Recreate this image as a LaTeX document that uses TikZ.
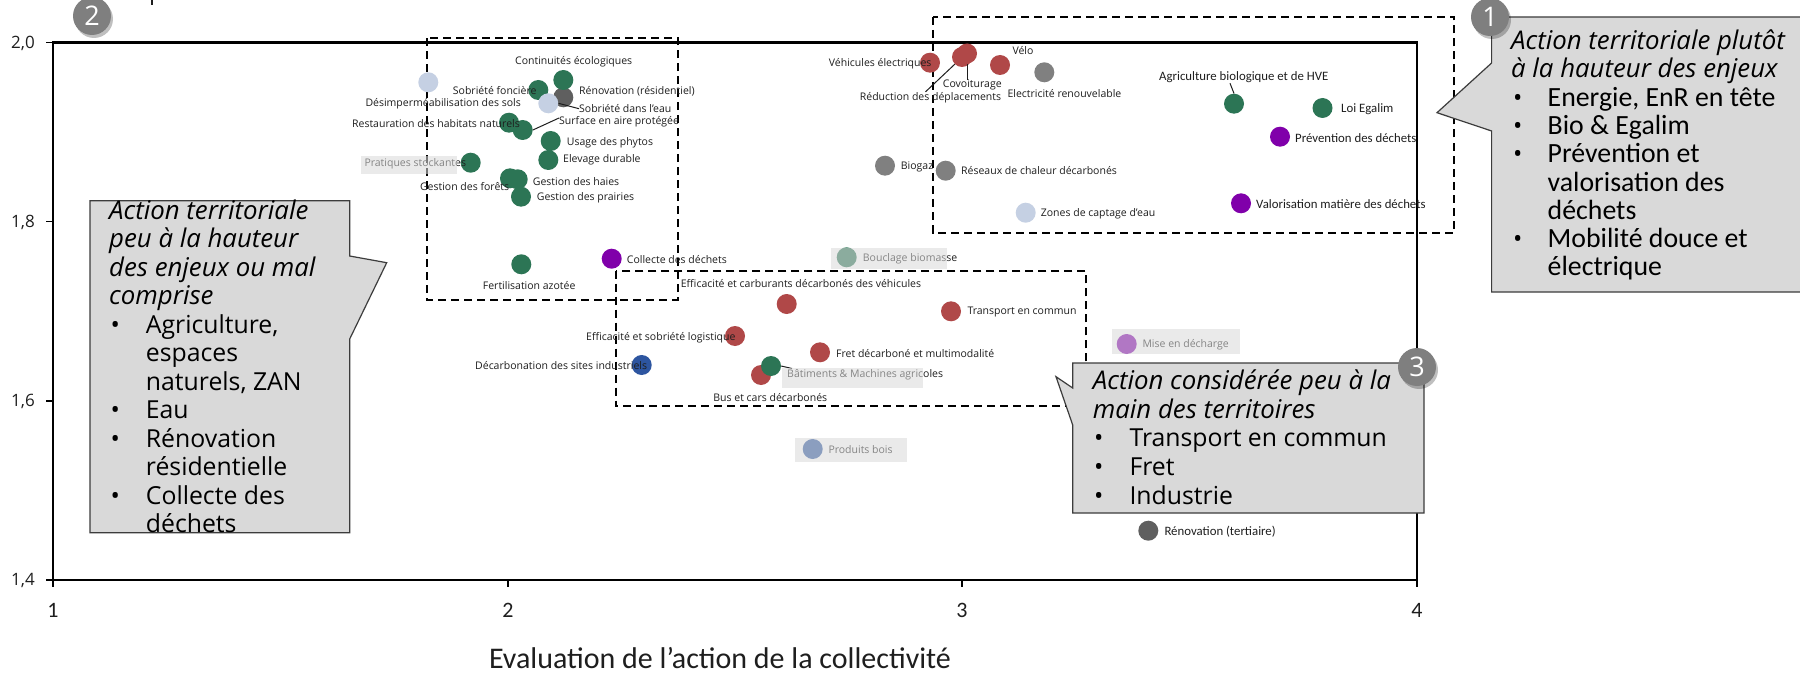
\documentclass[tikz,border=0pt]{standalone}
\usepackage{fontspec}
\setmainfont{Open Sans}
\newfontfamily\calib{Carlito}
\usetikzlibrary{shadows}
\definecolor{cgreen}{RGB}{44,117,85}
\definecolor{cred}{RGB}{176,72,72}
\definecolor{cgray}{RGB}{128,128,128}
\definecolor{cdgray}{RGB}{95,95,95}
\definecolor{clblue}{RGB}{197,208,227}
\definecolor{cpurple}{RGB}{128,0,170}
\definecolor{cblue}{RGB}{45,85,160}
\definecolor{cbox}{RGB}{217,217,217}
\definecolor{cborder}{RGB}{60,60,60}
\definecolor{ctext}{RGB}{30,30,30}
\definecolor{cover}{RGB}{218,218,218}
\definecolor{cnum}{RGB}{127,127,127}
\begin{document}
\begin{tikzpicture}[x=1pt,y=-1pt,
  dot/.style={circle,inner sep=0pt,minimum size=20pt,fill=#1},
  lab/.style={inner sep=0pt,text=ctext,font=\fontsize{10.5}{12}\selectfont},
  labc/.style={inner sep=0pt,text=ctext,font=\calib\fontsize{12.8}{14}\selectfont},
  dbox/.style={draw=black,line width=2pt,dash pattern=on 8pt off 5pt},
  callout/.style={fill=cbox,draw=cborder,line width=1.2pt},
  numc/.style={circle,fill=cnum,minimum size=38pt,inner sep=0pt,text=white,font=\fontsize{27}{27}\selectfont,drop shadow={shadow xshift=2pt,shadow yshift=-3pt,opacity=0.25,fill=black}},
  leader/.style={draw=ctext,line width=1pt},
  over/.style={fill=cover,opacity=0.55},
  hdr/.style={inner sep=0pt,anchor=base west,text=black,font=\itshape\fontsize{25.8}{28}\selectfont},
  bulm/.style={inner sep=0pt,anchor=base west,text=black,font=\fontsize{24.8}{28}\selectfont},
  bulc/.style={inner sep=0pt,anchor=base west,text=black,font=\calib\fontsize{27.8}{28}\selectfont},
  ytl/.style={inner sep=0pt,anchor=east,text=ctext,font=\fontsize{17}{20}\selectfont},
  xtl/.style={inner sep=0pt,anchor=center,text=ctext,font=\calib\fontsize{22}{24}\selectfont}
]
\useasboundingbox (0,0) rectangle (1800,674);
\fill[white] (0,0) rectangle (1800,674);
\fill[ctext] (150.8,0) rectangle (153.2,5.5);

% frame and ticks
\draw[line width=2.2pt] (53,42.5) rectangle (1417,580);
\draw[line width=1.5pt] (46,42.5) -- (53,42.5) (46,221.7) -- (53,221.7) (46,401) -- (53,401) (46,580) -- (53,580);
\draw[line width=1.5pt] (53,580) -- (53,587) (508,580) -- (508,587) (962,580) -- (962,587) (1417,580) -- (1417,587);
\node[ytl] (y20) at (35,43.3) {2,0};
\node[ytl] (y18) at (35,222) {1,8};
\node[ytl] (y16) at (35,401.5) {1,6};
\node[ytl] (y14) at (35,580.5) {1,4};
\node[xtl] (x1) at (53,610) {1};
\node[xtl] (x2) at (508,610) {2};
\node[xtl] (x3) at (962,610) {3};
\node[xtl] (x4) at (1417,610) {4};
\node[inner sep=0pt,anchor=base,text=ctext,font=\calib\fontsize{30}{32}\selectfont] (xt) at (720,668.5) {Evaluation de l’action de la collectivité};

% dashed zones
\draw[dbox] (932.5,17) rectangle (1454,232.5);
\draw[dbox] (426.5,38.3) rectangle (678,299.5);
\draw[dbox] (615.7,270.7) rectangle (1085.7,406);

% dots
\node[dot=clblue] (lb1) at (428.3,82.3) {};
\node[dot=cdgray] (rres) at (563.3,97.3) {};
\node[dot=cgreen] (g1) at (563.3,80) {};
\node[dot=cgreen] (g2) at (538.3,90) {};
\node[dot=clblue] (lb2) at (548.3,103.3) {};
\node[dot=cgreen] (g3) at (509,122.7) {};
\node[dot=cgreen] (g4) at (522.7,130) {};
\node[dot=cgreen] (g5) at (550.7,141) {};
\node[dot=cgreen] (g6) at (548.3,160) {};
\node[dot=cgreen] (g7) at (470.7,162.7) {};
\node[dot=cgreen] (g8) at (510,178.3) {};
\node[dot=cgreen] (g9) at (517.7,179.3) {};
\node[dot=cgreen] (g10) at (521,196.7) {};
\node[dot=cgreen] (g11) at (521.3,264.3) {};
\node[dot=cpurple] (pcol) at (611.7,258.7) {};
\node[dot=cred] (rve) at (930,62.7) {};
\node[dot=cred] (rrd) at (962,57) {};
\node[dot=cred] (rcov) at (967,53.5) {};
\node[dot=cred] (rvelo) at (1000,65) {};
\node[dot=cgray] (gelec) at (1044.3,72.3) {};
\node[dot=cgreen] (g12) at (1234,103.7) {};
\node[dot=cgreen] (g13) at (1322.5,108) {};
\node[dot=cpurple] (pprev) at (1280,136.7) {};
\node[dot=cgray] (gbio) at (885,165.7) {};
\node[dot=cgray] (gres) at (945.7,170.7) {};
\node[dot=clblue] (lbz) at (1025.7,212.7) {};
\node[dot=cpurple] (pval) at (1241,203.3) {};
\node[dot=cgreen] (gbou) at (846.7,257.3) {};
\node[dot=cred] (reff) at (786.7,304) {};
\node[dot=cred] (rtc) at (951,311.3) {};
\node[dot=cred] (rlog) at (735,336) {};
\node[dot=cred] (rfret) at (820,352.3) {};
\node[dot=cblue] (bdec) at (641.7,365) {};
\node[dot=cred] (rbus) at (761,375) {};
\node[dot=cgreen] (g14) at (771,366) {};
\node[dot=cpurple] (pmise) at (1126.7,344) {};
\node[dot=cblue] (bbois) at (812.7,449) {};
\node[dot=cdgray] (rter) at (1148.3,530.7) {};

% labels
\node[lab] (lce) at (573.7,61.7) {Continuités écologiques};
\node[lab,anchor=east] (lsf) at (536.7,90.3) {Sobriété foncière};
\node[lab,anchor=west] (lrr) at (579,91) {Rénovation (résidentiel)};
\node[lab,anchor=east] (lds) at (521,103.3) {Désimperméabilisation des sols};
\node[lab,anchor=west] (lse) at (579,108.7) {Sobriété dans l’eau};
\node[lab,anchor=east] (lrh) at (520,123.3) {Restauration des habitats naturels};
\node[lab,anchor=west] (lsap) at (559,122) {Surface en aire protégée};
\node[lab,anchor=west] (lup) at (566.7,142.7) {Usage des phytos};
\node[lab,anchor=west] (led) at (563,160) {Elevage durable};
\node[lab,anchor=west] (lps) at (364.3,163.3) {Pratiques stockantes};
\node[lab,anchor=east] (lgf) at (509.3,186.7) {Gestion des forêts};
\node[lab,anchor=west] (lgh) at (532.7,181.3) {Gestion des haies};
\node[lab,anchor=west] (lgp) at (536.7,197.3) {Gestion des prairies};
\node[lab] (lfa) at (529.2,285.7) {Fertilisation azotée};
\node[lab,anchor=west] (lcd) at (626.7,259.3) {Collecte des déchets};
\node[lab,anchor=east] (lve) at (931.7,63.3) {Véhicules électriques};
\node[lab,anchor=west] (lvelo) at (1012.3,51) {Vélo};
\node[lab] (lcov) at (972.3,85) {Covoiturage};
\node[lab] (lrd) at (930.5,97.3) {Réduction des déplacements};
\node[lab,anchor=west] (lel) at (1007.3,93.3) {Electricité renouvelable};
\node[labc,anchor=west] (lagri) at (1159,77.5) {Agriculture biologique et de HVE};
\node[labc,anchor=west] (legal) at (1341,109) {Loi Egalim};
\node[labc,anchor=west] (lprev) at (1295,137.8) {Prévention des déchets};
\node[lab,anchor=west] (lbio) at (900.7,166.7) {Biogaz};
\node[lab,anchor=west] (lres) at (961,171) {Réseaux de chaleur décarbonés};
\node[lab,anchor=west] (lzc) at (1040.7,214) {Zones de captage d’eau};
\node[labc,anchor=west] (lval) at (1256,204) {Valorisation matière des déchets};
\node[lab,anchor=west] (lbou) at (862.7,258.3) {Bouclage biomasse};
\node[lab,anchor=west] (leff) at (680.7,284) {Efficacité et carburants décarbonés des véhicules};
\node[lab,anchor=west] (ltc) at (967.3,312.3) {Transport en commun};
\node[lab,anchor=west] (llog) at (586,337.3) {Efficacité et sobriété logistique};
\node[lab,anchor=west] (lfret) at (836,353.3) {Fret décarboné et multimodalité};
\node[lab,anchor=west] (ldsi) at (475,366) {Décarbonation des sites industriels};
\node[lab,anchor=west] (lbat) at (787,375) {Bâtiments \& Machines agricoles};
\node[lab] (lbus) at (770.3,398) {Bus et cars décarbonés};
\node[lab,anchor=west] (lmise) at (1142.3,344.3) {Mise en décharge};
\node[lab,anchor=west] (lbois) at (828.3,449.3) {Produits bois};
\node[labc,anchor=west] (lter) at (1164.3,531.7) {Rénovation (tertiaire)};

% leader lines
\coordinate (batend) at (792,368.5);
\draw[leader] (lb2.east) -- (lse.west);
\draw[leader] (g4.east) -- ([yshift=4pt]lsap.west);
\draw[leader] (rcov.south) -- (rcov.south |- lcov.north);
\draw[leader] (rrd.225) -- ([xshift=-5pt]lrd.north);
\draw[leader] (g12.north) -- ([xshift=-4pt]g12.north |- lagri.south);
\draw[leader] (g14.east) -- (batend);

% grey veils
\fill[over] (361,156) rectangle (457,174);
\fill[over] (831,248) rectangle (947,269);
\fill[over] (781.7,367.7) rectangle (923.3,388.3);
\fill[over] (1112.3,329.3) rectangle (1240,354);
\fill[over] (795,438) rectangle (906.7,461.7);

% callouts
\draw[callout] (1491.6,17) -- (1806,17) -- (1806,292) -- (1491.6,292) -- (1491.6,131) -- (1437,112.7) -- (1491.6,63) -- cycle;
\draw[callout] (90,200.7) -- (349.7,200.7) -- (349.7,256) -- (386.7,262.7) -- (349.7,339) -- (349.7,532.7) -- (90,532.7) -- cycle;
\draw[callout] (1072.7,363) -- (1424,363) -- (1424,513) -- (1072.7,513) -- (1072.7,425) -- (1056,376.7) -- (1072.7,388) -- cycle;

% callout 1 text
\node[hdr] (c1a) at (1511,49.5) {Action territoriale plutôt};
\node[hdr] (c1b) at (1511,77.8) {à la hauteur des enjeux};
\node[bulm] (c1p1) at (1513,106.1) {•};
\node[bulc] (c1c) at (1547.5,106.1) {Energie, EnR en tête};
\node[bulm] (c1p2) at (1513,134.4) {•};
\node[bulc] (c1d) at (1547.5,134.4) {Bio \& Egalim};
\node[bulm] (c1p3) at (1513,162.7) {•};
\node[bulc] (c1e) at (1547.5,162.7) {Prévention et};
\node[bulc] (c1f) at (1547.5,191) {valorisation des};
\node[bulc] (c1g) at (1547.5,219.3) {déchets};
\node[bulm] (c1p4) at (1513,247.6) {•};
\node[bulc] (c1h) at (1547.5,247.6) {Mobilité douce et};
\node[bulc] (c1i) at (1547.5,275.9) {électrique};

% callout 2 text
\node[hdr] (c2a) at (109,219.2) {Action territoriale};
\node[hdr] (c2b) at (109,247.7) {peu à la hauteur};
\node[hdr] (c2c) at (109,276.2) {des enjeux ou mal};
\node[hdr] (c2d) at (109,304.6) {comprise};
\node[bulm] (c2p1) at (110.5,333.1) {•};
\node[bulm] (c2e) at (145.7,333.1) {Agriculture,};
\node[bulm] (c2f) at (145.7,361.6) {espaces};
\node[bulm] (c2g) at (145.7,390.1) {naturels, ZAN};
\node[bulm] (c2p2) at (110.5,418.6) {•};
\node[bulm] (c2h) at (145.7,418.6) {Eau};
\node[bulm] (c2p3) at (110.5,447) {•};
\node[bulm] (c2i) at (145.7,447) {Rénovation};
\node[bulm] (c2j) at (145.7,475.5) {résidentielle};
\node[bulm] (c2p4) at (110.5,504) {•};
\node[bulm] (c2k) at (145.7,504) {Collecte des};
\node[bulm] (c2l) at (145.7,532.5) {déchets};

% callout 3 text
\node[hdr] (c3a) at (1092.7,389.2) {Action considérée peu à la};
\node[hdr] (c3b) at (1092.7,418) {main des territoires};
\node[bulm] (c3p1) at (1094,446.7) {•};
\node[bulm] (c3c) at (1129.3,446.7) {Transport en commun};
\node[bulm] (c3p2) at (1094,475.5) {•};
\node[bulm] (c3d) at (1129.3,475.5) {Fret};
\node[bulm] (c3p3) at (1094,504.2) {•};
\node[bulm] (c3e) at (1129.3,504.2) {Industrie};

% numbered badges
\node[numc] (n1) at (1490,17) {1};
\node[numc] (n2) at (92,16) {2};
\node[numc] (n3) at (1417,367) {3};
\end{tikzpicture}
\end{document}
